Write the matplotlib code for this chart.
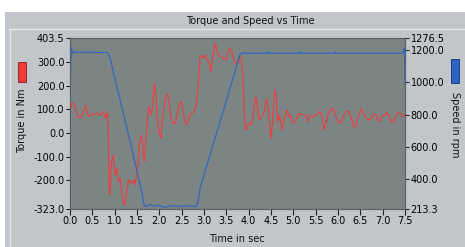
import numpy as np
import matplotlib.pyplot as plt
from matplotlib.patches import Rectangle
from matplotlib.lines import Line2D

# torque samples (time in s, torque in Nm)
t_torque = [0.00, 0.02, 0.05, 0.10, 0.15, 0.19, 0.25, 0.30, 0.35, 0.41, 0.48, 0.55, 0.60, 0.67,
            0.75, 0.80, 0.84, 0.86, 0.87, 0.89, 0.93, 0.97, 1.01, 1.05, 1.08, 1.12, 1.16, 1.19,
            1.23, 1.27, 1.31, 1.35, 1.38, 1.42, 1.45, 1.49, 1.52, 1.55, 1.59, 1.62, 1.66, 1.69,
            1.72, 1.75, 1.77, 1.81, 1.85, 1.89, 1.92, 1.95, 1.99, 2.04, 2.07, 2.13, 2.18, 2.22,
            2.26, 2.31, 2.36, 2.42, 2.48, 2.52, 2.57, 2.61, 2.67, 2.72, 2.77, 2.83, 2.87, 2.91,
            2.95, 2.99, 3.02, 3.07, 3.12, 3.15, 3.18, 3.22, 3.25, 3.28, 3.32, 3.37, 3.43, 3.49,
            3.54, 3.58, 3.62, 3.67, 3.72, 3.77, 3.80, 3.84, 3.88, 3.90, 3.93, 3.95, 3.99, 4.05,
            4.10, 4.14, 4.16, 4.20, 4.24, 4.29, 4.35, 4.40, 4.44, 4.48, 4.50, 4.53, 4.57, 4.59,
            4.62, 4.65, 4.69, 4.74, 4.77, 4.82, 4.86, 4.90, 4.94, 4.99, 5.04, 5.11, 5.14, 5.22,
            5.27, 5.32, 5.37, 5.44, 5.52, 5.59, 5.64, 5.68, 5.72, 5.78, 5.85, 5.89, 5.93, 6.00,
            6.05, 6.11, 6.19, 6.24, 6.30, 6.35, 6.40, 6.45, 6.52, 6.57, 6.64, 6.70, 6.75, 6.80,
            6.85, 6.88, 6.92, 6.98, 7.05, 7.10, 7.15, 7.20, 7.24, 7.29, 7.35, 7.40, 7.45, 7.50]
torque = [100, 110, 128, 120, 85, 65, 65, 90, 118, 70, 80, 78, 85, 75,
          92, 62, 85, -9, -207, -264, -122, -94, -180, -150, -207, -193, -250, -299,
          -306, -250, -200, -207, -214, -200, -221, -179, -136, -51, -9, -37, -122, -51,
          20, 90, 112, 76, 105, 211, 168, 83, 5, -23, 62, 147, 168, 133,
          62, 41, 41, 105, 133, 112, 48, 34, 69, 83, 90, 119, 204, 324,
          331, 317, 331, 317, 289, 260, 303, 353, 381, 360, 331, 324, 317, 310,
          345, 360, 345, 310, 296, 300, 324, 317, 204, 76, 20, 13, 41, 34,
          76, 140, 154, 105, 55, 69, 90, 147, 105, 20, -23, 34, 147, 183,
          147, 48, 76, 13, 41, 76, 97, 69, 76, 41, 48, 76, 83, 76,
          76, 48, 76, 69, 76, 90, 76, 13, 34, 83, 97, 107, 83, 48,
          41, 69, 93, 90, 62, 27, 27, 69, 102, 83, 62, 55, 62, 83,
          76, 62, 48, 69, 76, 87, 69, 45, 48, 69, 87, 83, 69, 76]

# speed samples (time in s, speed in rpm)
t_speed = [0.00, 0.03, 0.05, 0.07, 0.10, 0.20, 0.50, 0.84, 0.90, 1.00, 1.20, 1.40, 1.60,
           1.66, 1.70, 1.79, 1.88, 1.95, 2.05, 2.13, 2.20, 2.35, 2.50, 2.60, 2.70, 2.83,
           2.86, 2.91, 3.20, 3.50, 3.80, 3.84, 4.42, 4.43, 4.44, 5.14, 5.15, 5.16, 5.93,
           5.94, 5.95, 7.46, 7.48, 7.49, 7.50]
speed = [975, 1216, 1195, 1180, 1190, 1188, 1188, 1186, 1150, 1030, 800, 570, 330,
         235, 228, 240, 230, 238, 230, 222, 230, 232, 230, 232, 230, 230,
         250, 340, 610, 885, 1170, 1182, 1182, 1192, 1182, 1182, 1192, 1182, 1182,
         1190, 1182, 1182, 1212, 1200, 985]

panel = '#c2c6ca'
plot_bg = '#7c8484'
red = '#f03c3c'
blue = '#2c64c4'

fig = plt.figure(figsize=(4.65, 2.47), dpi=100)
fig.patch.set_facecolor('white')

W, H = 465.0, 247.0

def fx(x):
    return x / W

def fy(y):
    return 1 - y / H

# grey panel, title strip and inner frame
fig.patches.append(Rectangle((fx(5), 0), 1 - fx(5), fy(12), transform=fig.transFigure,
                             facecolor=panel, edgecolor='none', zorder=0))
fig.lines.append(Line2D([fx(9), 1], [fy(29.5), fy(29.5)], transform=fig.transFigure,
                        color='#e4e6e8', lw=1.0, zorder=1))
fig.lines.append(Line2D([fx(9.5), fx(9.5)], [0, fy(29.5)], transform=fig.transFigure,
                        color='#e4e6e8', lw=1.0, zorder=1))
fig.text(fx(250), fy(21), 'Torque and Speed vs Time', ha='center', va='center',
         fontsize=7, color='#111111')

ax = fig.add_axes([fx(70), fy(209), fx(405) - fx(70), fy(38) - fy(209)])
ax.set_zorder(2)
ax.set_facecolor(plot_bg)
ax.plot(t_torque, torque, color=red, lw=0.8)
ax.set_xlim(0, 7.5)
ax.set_ylim(-323, 403.5)
ax.set_xticks(np.arange(0, 7.51, 0.5))
ax.set_xticklabels([f'{v:.1f}' for v in np.arange(0, 7.51, 0.5)])
ax.set_yticks([-323, -200, -100, 0, 100, 200, 300, 403.5])
ax.set_yticklabels(['-323.0', '-200.0', '-100.0', '0.0', '100.0', '200.0', '300.0', '403.5'])
ax.tick_params(labelsize=7, length=3, width=0.8, color='#222222', pad=1)
ax.tick_params(axis='x', length=4)
for s in ax.spines.values():
    s.set_color('#5c6262')
    s.set_linewidth(0.8)

ax2 = ax.twinx()
ax2.set_zorder(3)
ax2.plot(t_speed, speed, color=blue, lw=0.8)
ax2.set_ylim(213.3, 1276.5)
ax2.set_yticks([213.3, 400, 600, 800, 1000, 1200, 1276.5])
ax2.set_yticklabels(['213.3', '400.0', '600.0', '800.0', '1000.0', '1200.0', '1276.5'])
ax2.tick_params(labelsize=7, length=3, width=0.8, color='#222222', pad=1)
for s in ax2.spines.values():
    s.set_color('#5c6262')
    s.set_linewidth(0.8)

fig.text(fx(22), fy(121), 'Torque in Nm', rotation=90, ha='center', va='center',
         fontsize=7, color='#111111')
fig.text(fx(455), fy(125), 'Speed in rpm', rotation=-90, ha='center', va='center',
         fontsize=7, color='#111111')
fig.text(fx(237), fy(239), 'Time in sec', ha='center', va='center',
         fontsize=7, color='#111111')

# colour swatches next to the axis titles
fig.patches.append(Rectangle((fx(18), fy(82)), fx(8), fy(62) - fy(82), transform=fig.transFigure,
                             facecolor=red, edgecolor='#8a1a1a', lw=0.6, zorder=1))
fig.patches.append(Rectangle((fx(451), fy(83)), fx(8), fy(59) - fy(83), transform=fig.transFigure,
                             facecolor=blue, edgecolor='#14306a', lw=0.6, zorder=1))

fig.savefig('out.png', dpi=100, facecolor=fig.get_facecolor())
